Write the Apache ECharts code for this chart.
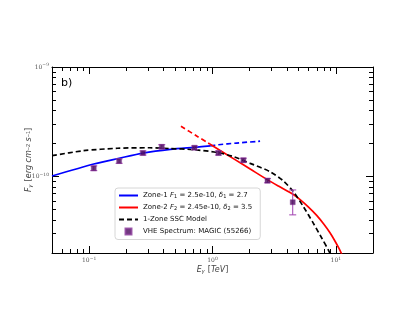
<!DOCTYPE html>
<html>
<head>
<meta charset="utf-8">
<script src="https://cdn.jsdelivr.net/npm/echarts@6/dist/echarts.min.js"></script>
<style>html,body{margin:0;padding:0;background:#fff;}#c{width:415px;height:321px;}</style>
</head>
<body>
<div id="c"></div>
<script>
// ---- data ----
const zone1E = [0.05, 0.109, 0.175, 0.273, 0.455, 0.715, 0.96];
const zone1F = [1.01e-10, 1.30e-10, 1.466e-10, 1.635e-10, 1.77e-10, 1.846e-10, 1.90e-10];
const zone1ExtE = [0.96, 1.12, 1.57, 2.43];
const zone1ExtF = [1.90e-10, 1.95e-10, 2.02e-10, 2.10e-10];

const zone2ExtE = [0.555, 0.75, 0.95];
const zone2ExtF = [2.88e-10, 2.33e-10, 1.98e-10];
const zone2E = [0.95, 1.5, 2.02, 2.8, 3.42, 4.52, 5.13, 6.0, 6.99, 8.0, 8.96, 9.8, 10.6, 11.2, 11.7];
const zone2F = [1.98e-10, 1.44e-10, 1.17e-10, 9.31e-11, 8.17e-11, 6.84e-11, 6.14e-11, 5.25e-11, 4.41e-11, 3.66e-11, 3.06e-11, 2.59e-11, 2.20e-11, 1.93e-11, 1.72e-11];

const sscE = [0.05, 0.09, 0.17, 0.31, 0.45, 0.70, 1.12, 1.50, 2.02, 2.93, 3.75, 4.52, 5.45, 6.56, 7.68, 8.68, 9.66];
const sscF = [1.55e-10, 1.72e-10, 1.81e-10, 1.83e-10, 1.80e-10, 1.76e-10, 1.65e-10, 1.51e-10, 1.318e-10, 1.106e-10, 9.12e-11, 7.27e-11, 5.31e-11, 3.75e-11, 2.74e-11, 2.14e-11, 1.69e-11];

const magicE = [0.109, 0.175, 0.273, 0.388, 0.715, 1.118, 1.78, 2.79, 4.47];
const magicF = [1.188e-10, 1.383e-10, 1.637e-10, 1.866e-10, 1.83e-10, 1.637e-10, 1.406e-10, 9.16e-11, 5.82e-11];
const magicLo = [1.13e-10, 1.32e-10, 1.57e-10, 1.79e-10, 1.76e-10, 1.57e-10, 1.35e-10, 8.75e-11, 4.46e-11];
const magicHi = [1.25e-10, 1.45e-10, 1.71e-10, 1.95e-10, 1.90e-10, 1.71e-10, 1.47e-10, 9.6e-11, 7.53e-11];

const xMajorTicks = [0.1, 1, 10];
const xMinorTicks = [0.06, 0.07, 0.08, 0.09, 0.2, 0.3, 0.4, 0.5, 0.6, 0.7, 0.8, 0.9, 2, 3, 4, 5, 6, 7, 8, 9];
const yMajorTicks = [1e-10, 1e-9];
const yMinorTicks = [3e-11, 4e-11, 5e-11, 6e-11, 7e-11, 8e-11, 9e-11, 2e-10, 3e-10, 4e-10, 5e-10, 6e-10, 7e-10, 8e-10, 9e-10];

const legendNames = ['Zone-1', 'Zone-2', '1-Zone SSC Model', 'VHE Spectrum: MAGIC (55266)'];

function pairs(a, b) { return a.map((v, i) => [v, b[i]]); }

const X_MIN = 0.05, X_MAX = 20, Y_MIN = 2e-11, Y_MAX = 1e-9;
const tickRich = {
  b: { fontSize: 6, color: '#555', fontFamily: 'DejaVu Serif' },
  s: { fontSize: 4.5, color: '#555', fontFamily: 'DejaVu Serif', verticalAlign: 'bottom', padding: [0, 0, 4, 0] }
};
function powLabel(v) {
  const e = Math.round(Math.log10(v));
  return '{b|10}{s|' + (e < 0 ? '\u2212' + (-e) : e) + '}';
}

function xAxisDef(pos, major) {
  return {
    type: 'log', min: X_MIN, max: X_MAX, position: pos,
    axisLine: { show: major, lineStyle: { color: '#000', width: 1 } },
    axisTick: { inside: true, length: major ? 7 : 4, customValues: major ? xMajorTicks : xMinorTicks, lineStyle: { color: '#000', width: 1 } },
    axisLabel: { show: major && pos === 'bottom', customValues: xMajorTicks, formatter: powLabel, rich: tickRich, margin: 3 },
    splitLine: { show: false }
  };
}
function yAxisDef(pos, major) {
  return {
    type: 'log', min: Y_MIN, max: Y_MAX, position: pos,
    axisLine: { show: major, lineStyle: { color: '#000', width: 1 } },
    axisTick: { inside: true, length: major ? 7 : 4, customValues: major ? yMajorTicks : yMinorTicks, lineStyle: { color: '#000', width: 1 } },
    axisLabel: { show: major && pos === 'left', customValues: yMajorTicks, formatter: powLabel, rich: tickRich, margin: 3 },
    splitLine: { show: false }
  };
}

const xAxes = [xAxisDef('bottom', true), xAxisDef('bottom', false), xAxisDef('top', true), xAxisDef('top', false)];
xAxes[0].name = '{i|E}{sub|\u03b3} {n|[}{i|TeV}{n|]}';
xAxes[0].nameLocation = 'middle';
xAxes[0].nameGap = 11;
xAxes[0].nameMoveOverlap = false;
xAxes[0].nameTextStyle = { rich: {
  i: { fontSize: 8, fontStyle: 'italic', color: '#444', fontFamily: 'DejaVu Sans' },
  n: { fontSize: 8, color: '#444', fontFamily: 'DejaVu Sans' },
  sub: { fontSize: 5.5, fontStyle: 'italic', color: '#444', verticalAlign: 'top', padding: [4, 0, 0, 0] }
}};
const yAxes = [yAxisDef('left', true), yAxisDef('left', false), yAxisDef('right', true), yAxisDef('right', false)];
yAxes[0].name = '{i|F}{sub|\u03b3} {n|[}{i|erg cm}{sup|\u22122}{i| s}{sup|\u22121}{n|]}';
yAxes[0].nameLocation = 'middle';
yAxes[0].nameGap = 17;
yAxes[0].nameMoveOverlap = false;
yAxes[0].nameTextStyle = { rich: {
  i: { fontSize: 8, fontStyle: 'italic', color: '#444', fontFamily: 'DejaVu Sans' },
  n: { fontSize: 8, color: '#444', fontFamily: 'DejaVu Sans' },
  sub: { fontSize: 5.5, fontStyle: 'italic', color: '#444', verticalAlign: 'top', padding: [4, 0, 0, 0] },
  sup: { fontSize: 5.5, color: '#444', verticalAlign: 'bottom', padding: [0, 0, 4, 0] }
}};

const lineBase = { type: 'line', xAxisIndex: 0, yAxisIndex: 0, showSymbol: false, symbol: 'none', smooth: 0.25, clip: true, z: 3 };

const option = {
  animation: false,
  backgroundColor: '#fff',
  grid: { left: 52, top: 67, width: 321, height: 186, containLabel: false },
  xAxis: xAxes,
  yAxis: yAxes,
  graphic: [{ type: 'text', left: 61, top: 78, style: { text: 'b)', fontSize: 11, fill: '#000', fontFamily: 'DejaVu Sans' } }],
  legend: {
    left: 115, top: 188, orient: 'vertical',
    data: legendNames.map((n, i) => i === 3 ? { name: n, icon: 'path://M0,0H10V10H0Z' } : { name: n, itemStyle: { opacity: 0 } }),
    itemWidth: 19, itemHeight: 6, itemGap: 4.5,
    padding: [4, 8, 4, 3],
    backgroundColor: '#fff', borderColor: '#ccc', borderWidth: 0.8, borderRadius: 3,
    textStyle: { fontSize: 7, color: '#111', fontFamily: 'DejaVu Sans', rich: {
      n: { fontSize: 7, color: '#111', fontFamily: 'DejaVu Sans' },
      i: { fontSize: 7, color: '#111', fontStyle: 'italic', fontFamily: 'DejaVu Sans' },
      s: { fontSize: 5, color: '#111', verticalAlign: 'top', padding: [3, 0, 0, 0] }
    } },
    formatter: function (name) {
      if (name === 'Zone-1') return '{n|Zone-1 }{i|F}{s|1}{n| = 2.5e-10, }{i|\u03b4}{s|1}{n| = 2.7}';
      if (name === 'Zone-2') return '{n|Zone-2 }{i|F}{s|2}{n| = 2.45e-10, }{i|\u03b4}{s|2}{n| = 3.5}';
      return '{n|' + name + '}';
    }
  },
  series: [
    Object.assign({}, lineBase, { name: 'Zone-1', data: pairs(zone1E, zone1F), lineStyle: { color: '#0000ff', width: 1.7 }, itemStyle: { color: '#0000ff' } }),
    Object.assign({}, lineBase, { name: 'Zone-1 ext', data: pairs(zone1ExtE, zone1ExtF), lineStyle: { color: '#0000ff', width: 1.7, type: [5, 3] }, itemStyle: { color: '#0000ff' } }),
    Object.assign({}, lineBase, { name: 'Zone-2', data: pairs(zone2E, zone2F), lineStyle: { color: '#ff0000', width: 1.7 }, itemStyle: { color: '#ff0000' } }),
    Object.assign({}, lineBase, { name: 'Zone-2 ext', data: pairs(zone2ExtE, zone2ExtF), lineStyle: { color: '#ff0000', width: 1.7, type: [5, 3] }, itemStyle: { color: '#ff0000' } }),
    Object.assign({}, lineBase, { name: '1-Zone SSC Model', data: pairs(sscE, sscF), lineStyle: { color: '#000', width: 1.7, type: [5, 3] }, itemStyle: { color: '#000' } }),
    {
      type: 'custom', name: 'errors', xAxisIndex: 0, yAxisIndex: 0, z: 4,
      data: magicE.map((e, i) => [e, magicLo[i], magicHi[i]]),
      renderItem: function (params, api) {
        const lo = api.coord([api.value(0), api.value(1)]);
        const hi = api.coord([api.value(0), api.value(2)]);
        const w = 3.5;
        const st = { stroke: '#a040b0', lineWidth: 1 };
        return { type: 'group', children: [
          { type: 'line', shape: { x1: lo[0], y1: lo[1], x2: hi[0], y2: hi[1] }, style: st },
          { type: 'line', shape: { x1: lo[0] - w, y1: lo[1], x2: lo[0] + w, y2: lo[1] }, style: st },
          { type: 'line', shape: { x1: hi[0] - w, y1: hi[1], x2: hi[0] + w, y2: hi[1] }, style: st }
        ] };
      }
    },
    {
      type: 'scatter', name: 'VHE Spectrum: MAGIC (55266)', xAxisIndex: 0, yAxisIndex: 0, z: 5,
      symbol: 'rect', symbolSize: 5,
      data: pairs(magicE, magicF),
      itemStyle: { color: '#4b0a5c', borderColor: '#8a3a9a', borderWidth: 0.5 }
    }
  ]
};
echarts.init(document.getElementById('c'), null, { renderer: 'canvas' }).setOption(option);
</script>
</body>
</html>
